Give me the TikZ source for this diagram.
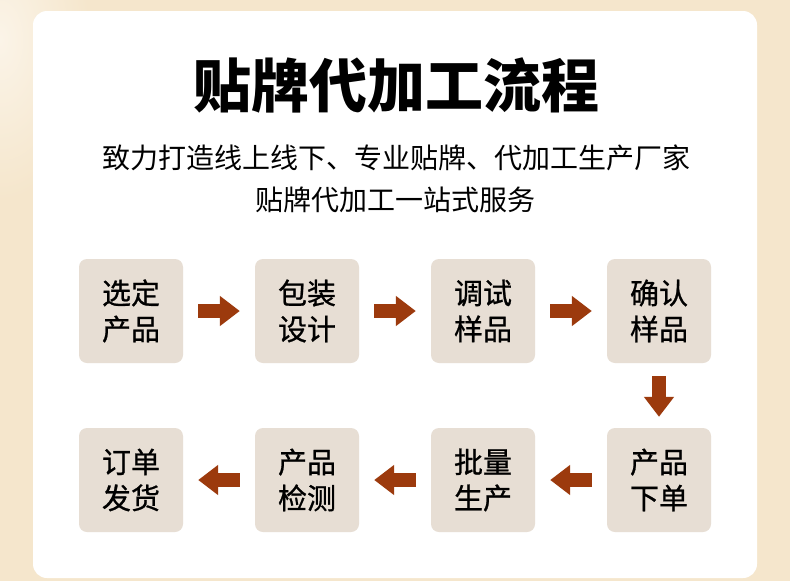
\documentclass[tikz,border=0pt]{standalone}
\usepackage{fontspec}
\setmainfont{Noto Sans CJK SC}
\newfontfamily\cjk{Noto Sans CJK SC}
\newfontfamily\cjkmed[FakeBold=0.8]{Noto Sans CJK SC}
\usetikzlibrary{positioning, arrows.meta}
\definecolor{bgcream}{HTML}{F5E6CC}
\definecolor{bglight}{HTML}{FBF4E8}
\definecolor{boxtan}{HTML}{E7DED4}
\definecolor{arrowrust}{HTML}{9C3A0D}
\tikzset{
    stepbox/.style={rectangle, rounded corners=8pt, fill=boxtan, minimum width=104pt,
        minimum height=104pt, inner sep=0pt, align=center,
        font=\cjkmed\fontsize{29}{36}\selectfont},
    flow/.style={arrowrust, line width=14pt, -{Triangle[length=20pt, width=29pt]},
        shorten <=15pt, shorten >=15pt}
}

\begin{document}
\begin{tikzpicture}[x=1pt, y=-1pt]
                \useasboundingbox (0,0) rectangle (790,581);
                % background and card
                \fill[bgcream] (0,0) rectangle (790,581);
                \shade[inner color=bglight, outer color=bgcream] (0,40) ellipse (90 and 160);
                \fill[white, rounded corners=14pt] (33,11) rectangle (757,578);
                % heading
                \node[font=\cjk\bfseries\fontsize{58}{58}\selectfont] (title) at (396,85) {贴牌代加工流程};
                \node[font=\cjk\fontsize{28}{28}\selectfont] (sub1) at (396,158) {致力打造线上线下、专业贴牌、代加工生产厂家};
                \node[font=\cjk\fontsize{28}{28}\selectfont] (sub2) at (395,200) {贴牌代加工一站式服务};
                % steps
                \node[stepbox] (s1) at (131,311) {选定\\产品};
                \node[stepbox] (s2) at (307,311) {包装\\设计};
                \node[stepbox] (s3) at (483,311) {调试\\样品};
                \node[stepbox] (s4) at (659,311) {确认\\样品};
                \node[stepbox] (s5) at (659,480) {产品\\下单};
                \node[stepbox] (s6) at (483,480) {批量\\生产};
                \node[stepbox] (s7) at (307,480) {产品\\检测};
                \node[stepbox] (s8) at (131,480) {订单\\发货};
                \draw[flow] (s1) -- (s2);
                \draw[flow] (s2) -- (s3);
                \draw[flow] (s3) -- (s4);
                \draw[flow, shorten <=13pt, shorten >=11pt] (s4) -- (s5);
                \draw[flow] (s5) -- (s6);
                \draw[flow] (s6) -- (s7);
                \draw[flow] (s7) -- (s8);
            \end{tikzpicture}
\end{document}
